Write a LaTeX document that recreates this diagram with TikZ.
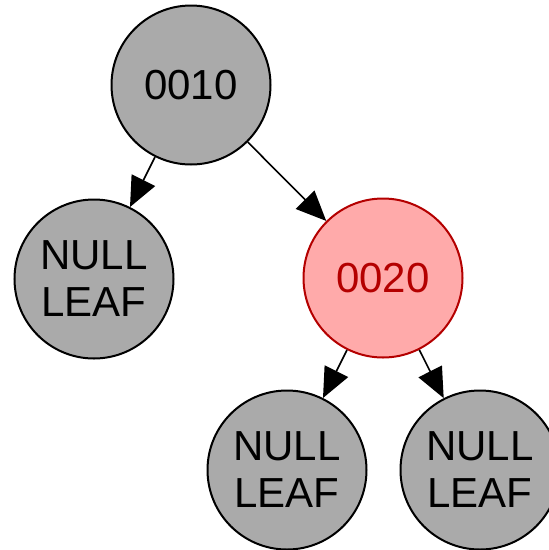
\documentclass[tikz,border=0pt]{standalone}
\usepackage{fontspec}
\setmainfont{Liberation Sans}
\usetikzlibrary{arrows.meta}
\definecolor{nodegray}{RGB}{170,170,170}
\definecolor{nodepink}{RGB}{255,170,170}
\definecolor{nodered}{RGB}{180,0,0}
\tikzset{
  treenode/.style={circle, draw=black, line width=2pt, fill=nodegray,
    minimum size=159pt, inner sep=0pt, align=center,
    font=\fontsize{42}{47}\selectfont},
  rednode/.style={treenode, draw=nodered, fill=nodepink, text=nodered},
  edge/.style={line width=1.6pt, -{Triangle[length=30pt,width=26pt]}}
}
\begin{document}
\begin{tikzpicture}[x=1pt,y=-1pt]
\useasboundingbox (0,0) rectangle (549,550);
\node[treenode] (n10) at (191,85) {0010};
\node[treenode] (l1) at (94,279) {NULL\\LEAF};
\node[rednode] (n20) at (383,278) {0020};
\node[treenode] (l2) at (287,470) {NULL\\LEAF};
\node[treenode] (l3) at (480,470) {NULL\\LEAF};
\draw[edge] (n10) -- (l1);
\draw[edge] (n10) -- (n20);
\draw[edge] (n20) -- (l2);
\draw[edge] (n20) -- (l3);
\end{tikzpicture}
\end{document}
